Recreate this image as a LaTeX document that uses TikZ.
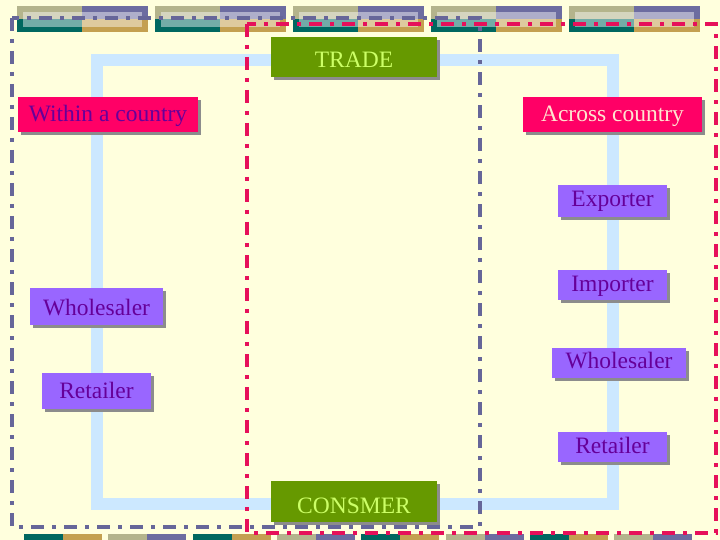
\documentclass[tikz,border=0pt]{standalone}
\usepackage{fontspec}
\setmainfont{Liberation Serif}
\usetikzlibrary{shadows}
\definecolor{bg}{RGB}{255,255,221}
\definecolor{khaki}{RGB}{180,180,140}
\definecolor{slate}{RGB}{108,108,160}
\definecolor{tealdark}{RGB}{0,104,96}
\definecolor{gold}{RGB}{196,160,80}
\definecolor{flowblue}{RGB}{204,232,255}
\definecolor{bordpurple}{RGB}{102,102,153}
\definecolor{bordred}{RGB}{230,16,90}
\definecolor{tradegreen}{RGB}{102,153,0}
\definecolor{tradetext}{RGB}{204,255,102}
\definecolor{crimson}{RGB}{255,0,102}
\definecolor{violetbox}{RGB}{153,102,255}
\definecolor{darkviolet}{RGB}{102,0,153}
\definecolor{pinktext}{RGB}{255,228,208}
\pgfdeclarelayer{bglayer}
\pgfdeclarelayer{flowlayer}
\pgfsetlayers{bglayer,flowlayer,main}
\begin{document}
\begin{tikzpicture}[x=1pt,y=-1pt,
  box/.style={inner sep=0pt, anchor=base, align=center,
    font=\fontsize{23.5}{28}\selectfont,
    drop shadow={shadow xshift=3pt, shadow yshift=-3pt, fill=gray!90, opacity=1}},
  greenbox/.style={box, fill=tradegreen, text=tradetext, minimum width=166pt},
  redbox/.style={box, fill=crimson, minimum width=180pt},
  purplebox/.style={box, fill=violetbox, text=darkviolet},
  flow/.style={draw=flowblue, line width=12pt, line join=miter},
  dashdot/.style={line width=3.5pt, dash pattern=on 13pt off 8pt on 4pt off 8pt},
]
\useasboundingbox (0,0) rectangle (720,540);
\begin{pgfonlayer}{bglayer}
  \fill[bg] (0,0) rectangle (720,540);
  \foreach \x in {17,155,293,431,569} {
    \fill[khaki] (\x,6) rectangle ++(65,13);
    \fill[slate] (\x+65,6) rectangle ++(66,13);
    \fill[tealdark] (\x,19) rectangle ++(65,13);
    \fill[gold] (\x+65,19) rectangle ++(66,13);
    \fill[white,opacity=0.45] (\x+6,12) rectangle (\x+125,27);
  }
  \foreach \i in {0,2,4,6} {
    \fill[tealdark] (24+84.3*\i,534) rectangle ++(39,7);
    \fill[gold] (63+84.3*\i,534) rectangle ++(39,7);
  }
  \foreach \i in {1,3,5,7} {
    \fill[khaki] (24+84.3*\i,534) rectangle ++(39,7);
    \fill[slate] (63+84.3*\i,534) rectangle ++(39,7);
  }
\end{pgfonlayer}

% borders
\draw[dashdot, bordpurple] (12,18) rectangle (480,527);
\draw[dashdot, bordred] (247,24) rectangle (716,533);

% nodes
\node[greenbox, text height=31pt, text depth=9pt] (trade) at (354,68) {TRADE};
\node[greenbox, text height=32pt, text depth=9pt] (cons) at (354,513) {CONSMER};
\node[redbox, text=darkviolet, text height=25pt, text depth=10pt] (within) at (108,122) {Within a country};
\node[redbox, text=pinktext, minimum width=179pt, text height=25pt, text depth=10pt] (across) at (612.5,122) {Across country};
\node[purplebox, minimum width=109pt, text height=22pt, text depth=10pt] (exp) at (612.5,207) {Exporter};
\node[purplebox, minimum width=109pt, text height=21pt, text depth=9pt] (imp) at (612.5,291) {Importer};
\node[purplebox, minimum width=134pt, text height=20pt, text depth=10pt] (wr) at (619,368) {Wholesaler};
\node[purplebox, minimum width=109pt, text height=21pt, text depth=9pt] (rr) at (612.5,453) {Retailer};
\node[purplebox, minimum width=133pt, text height=27pt, text depth=10pt] (wl) at (96.5,315) {Wholesaler};
\node[purplebox, minimum width=109pt, text height=25pt, text depth=11pt] (rl) at (96.5,398) {Retailer};

\coordinate (tc) at (354,60);
\coordinate (cc) at (354,504);

\begin{pgfonlayer}{flowlayer}
  \draw[flow] (tc) -| (rl) |- (cc);
  \draw[flow] (tc) -| (imp) -- (rr) |- (cc);
\end{pgfonlayer}
\end{tikzpicture}
\end{document}
